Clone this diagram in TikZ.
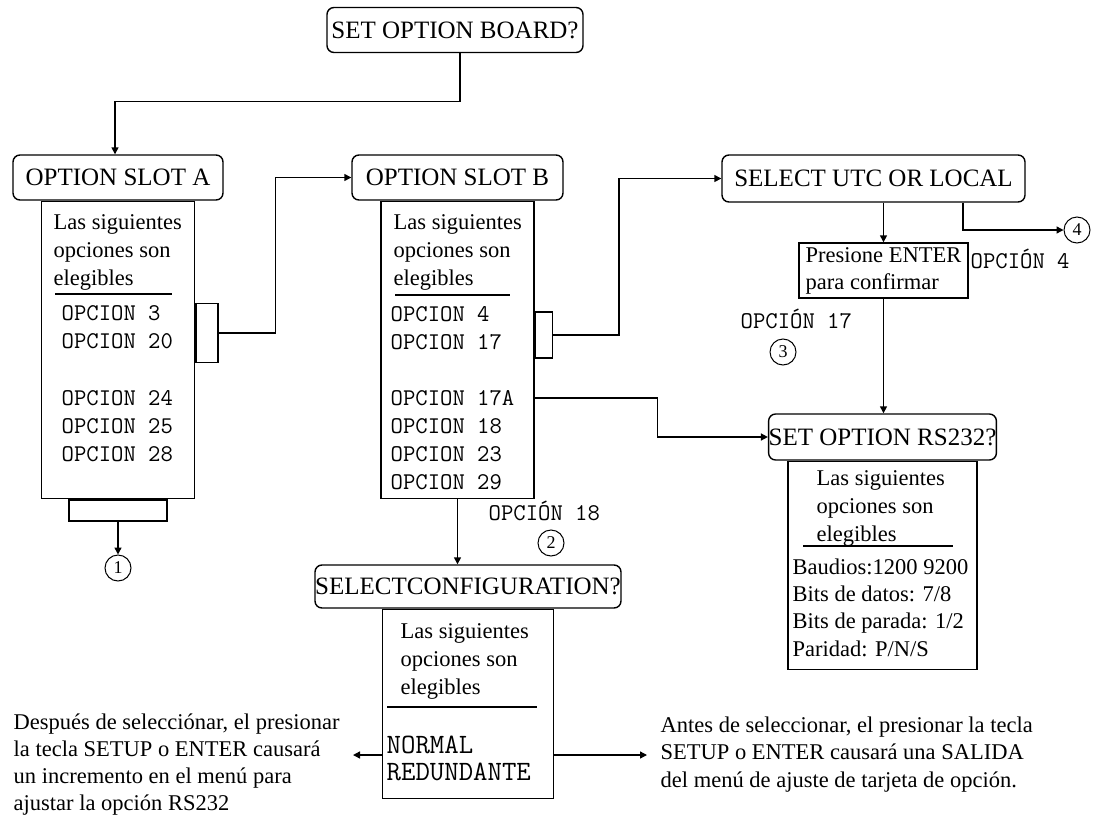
\documentclass[tikz,border=0pt]{standalone}
\usepackage{fontspec}
\setmainfont{Liberation Serif}
\usetikzlibrary{positioning,arrows.meta,calc}

\begin{document}
\begin{tikzpicture}[x=1pt,y=-1pt,line width=1.4pt,
 hdr/.style={draw,rounded corners=7pt,inner sep=0pt,font=\fontsize{25}{30}\selectfont},
 lst/.style={draw,inner sep=0pt},
 txt/.style={anchor=north west,inner sep=0pt,align=left,font=\fontsize{22.5}{28}\selectfont},
 opc/.style={anchor=north west,inner sep=0pt,align=left,font=\ttfamily\fontsize{24}{28}\selectfont},
 lbl/.style={anchor=base west,inner sep=0pt,font=\ttfamily\fontsize{24}{26}\selectfont},
 num/.style={circle,draw,line width=1pt,inner sep=0pt,minimum size=26pt,font=\fontsize{18}{18}\selectfont},
 arr/.style={-{Triangle[length=7pt,width=7pt]}}]
\fill[white] (0,0) rectangle (1094,819);
\useasboundingbox (0,0) rectangle (1094,819);
\node[hdr,minimum width=256,minimum height=45] (board) at (455,30) {SET OPTION BOARD?};
\node[hdr,minimum width=210,minimum height=45] (slotA) at (118,177.5) {OPTION SLOT A};
\node[lst,below=0pt of slotA,minimum width=153,minimum height=297] (listA) {};
\node[lst,anchor=west,minimum width=22,minimum height=59] (tabA) at (listA.east |- 0,333) {};
\node[lst,below=0pt of listA,minimum width=98,minimum height=21] (footA) {};
\node[num] (n1) at (footA.south |- 0,568) {1};
\node[hdr,minimum width=211,minimum height=45] (slotB) at (457.5,177.5) {OPTION SLOT B};
\node[lst,below=0pt of slotB,minimum width=153,minimum height=297] (listB) {};
\node[lst,anchor=west,minimum width=17,minimum height=46] (tabB) at (listB.east |- 0,335) {};
\node[hdr,minimum width=303,minimum height=47] (utc) at (873.5,178.5) {SELECT UTC OR LOCAL};
\node[lst,align=left,font=\fontsize{22.5}{27}\selectfont,minimum width=169,minimum height=55] (enter) at (883.5,270.5) {Presione ENTER\\para confirmar};
\node[hdr,minimum width=227,minimum height=46] (rs) at (882.5,437) {SET OPTION RS232?};
\node[lst,below=0pt of rs,minimum width=189,minimum height=208] (listRS) {};
\node[hdr,minimum width=306,minimum height=43] (conf) at (468,586.5) {SELECTCONFIGURATION?};
\node[lst,below=0pt of conf,minimum width=171,minimum height=189] (listC) {};

\node[txt] (elA) at (53,214) {Las siguientes\\opciones son\\elegibles};
\node[opc] (opA) at (61,305) {OPCION 3\\OPCION 20\\[29pt]OPCION 24\\OPCION 25\\OPCION 28};
\node[txt] (elB) at (393,214) {Las siguientes\\opciones son\\elegibles};
\node[opc] (opB) at (390,306) {OPCION 4\\OPCION 17\\[28pt]OPCION 17A\\OPCION 18\\OPCION 23\\OPCION 29};
\node[txt] (elRS) at (816,470) {Las siguientes\\opciones son\\elegibles};
\node[txt,font=\fontsize{22.5}{27.3}\selectfont] (parRS) at (792,558) {Baudios:1200 9200\\Bits de datos: 7/8\\Bits de parada: 1/2\\Paridad: P/N/S};
\node[txt] (elC) at (400,623) {Las siguientes\\opciones son\\elegibles};
\node[opc,font=\ttfamily\fontsize{28}{27}\selectfont] (opC) at (386,735) {NORMAL\\REDUNDANTE};
\node[txt,font=\fontsize{22.5}{27}\selectfont] (despues) at (13,713) {Después de selecciónar, el presionar\\la tecla SETUP o ENTER causará\\un incremento en el menú para\\ajustar la opción RS232};
\node[txt,font=\fontsize{22.5}{27.5}\selectfont] (antes) at (660,716) {Antes de seleccionar, el presionar la tecla\\SETUP o ENTER causará una SALIDA\\del menú de ajuste de tarjeta de opción.};
\node[lbl] (o18) at (488,520) {OPCIÓN 18};
\node[lbl] (o4) at (970,268) {OPCIÓN 4};
\node[lbl] (o17) at (740,328) {OPCIÓN 17};
\node[num] (n2) at (551,543) {2};
\node[num] (n3) at (783,352) {3};
\node[num] (n4) at (1077,230) {4};
\draw (55,294) -- (172,294); \draw (395,295) -- (510,295);
\draw (803,546) -- (953,546); \draw (387,707) -- (537,707);

\coordinate (lend) at (353,755); \coordinate (rend) at (647,755);
\draw[arr] ([xshift=5pt]board.south) -- ++(0,48) -| ([xshift=-3pt]slotA.north);
\draw[arr] (tabA.east) -- ++(57,0) |- (slotB.west);
\draw[arr] (footA.south) -- (n1.north);
\draw[arr] (tabB.east) -- ++(66,0) |- (utc.west);
\draw[arr] (listB.east |- 0,398) -- ++(123,0) |- (rs.west);
\draw[arr] (enter.north |- utc.south) -- (enter.north);
\draw[arr] ([xshift=89.5pt]utc.south) |- (n4.west);
\draw[arr] (enter.south) -- (enter.south |- rs.north);
\draw[arr] (listB.south) -- (listB.south |- conf.north);
\draw[arr] (listC.west |- lend) -- (lend);
\draw[arr] (listC.east |- rend) -- (rend);
\end{tikzpicture}
\end{document}
